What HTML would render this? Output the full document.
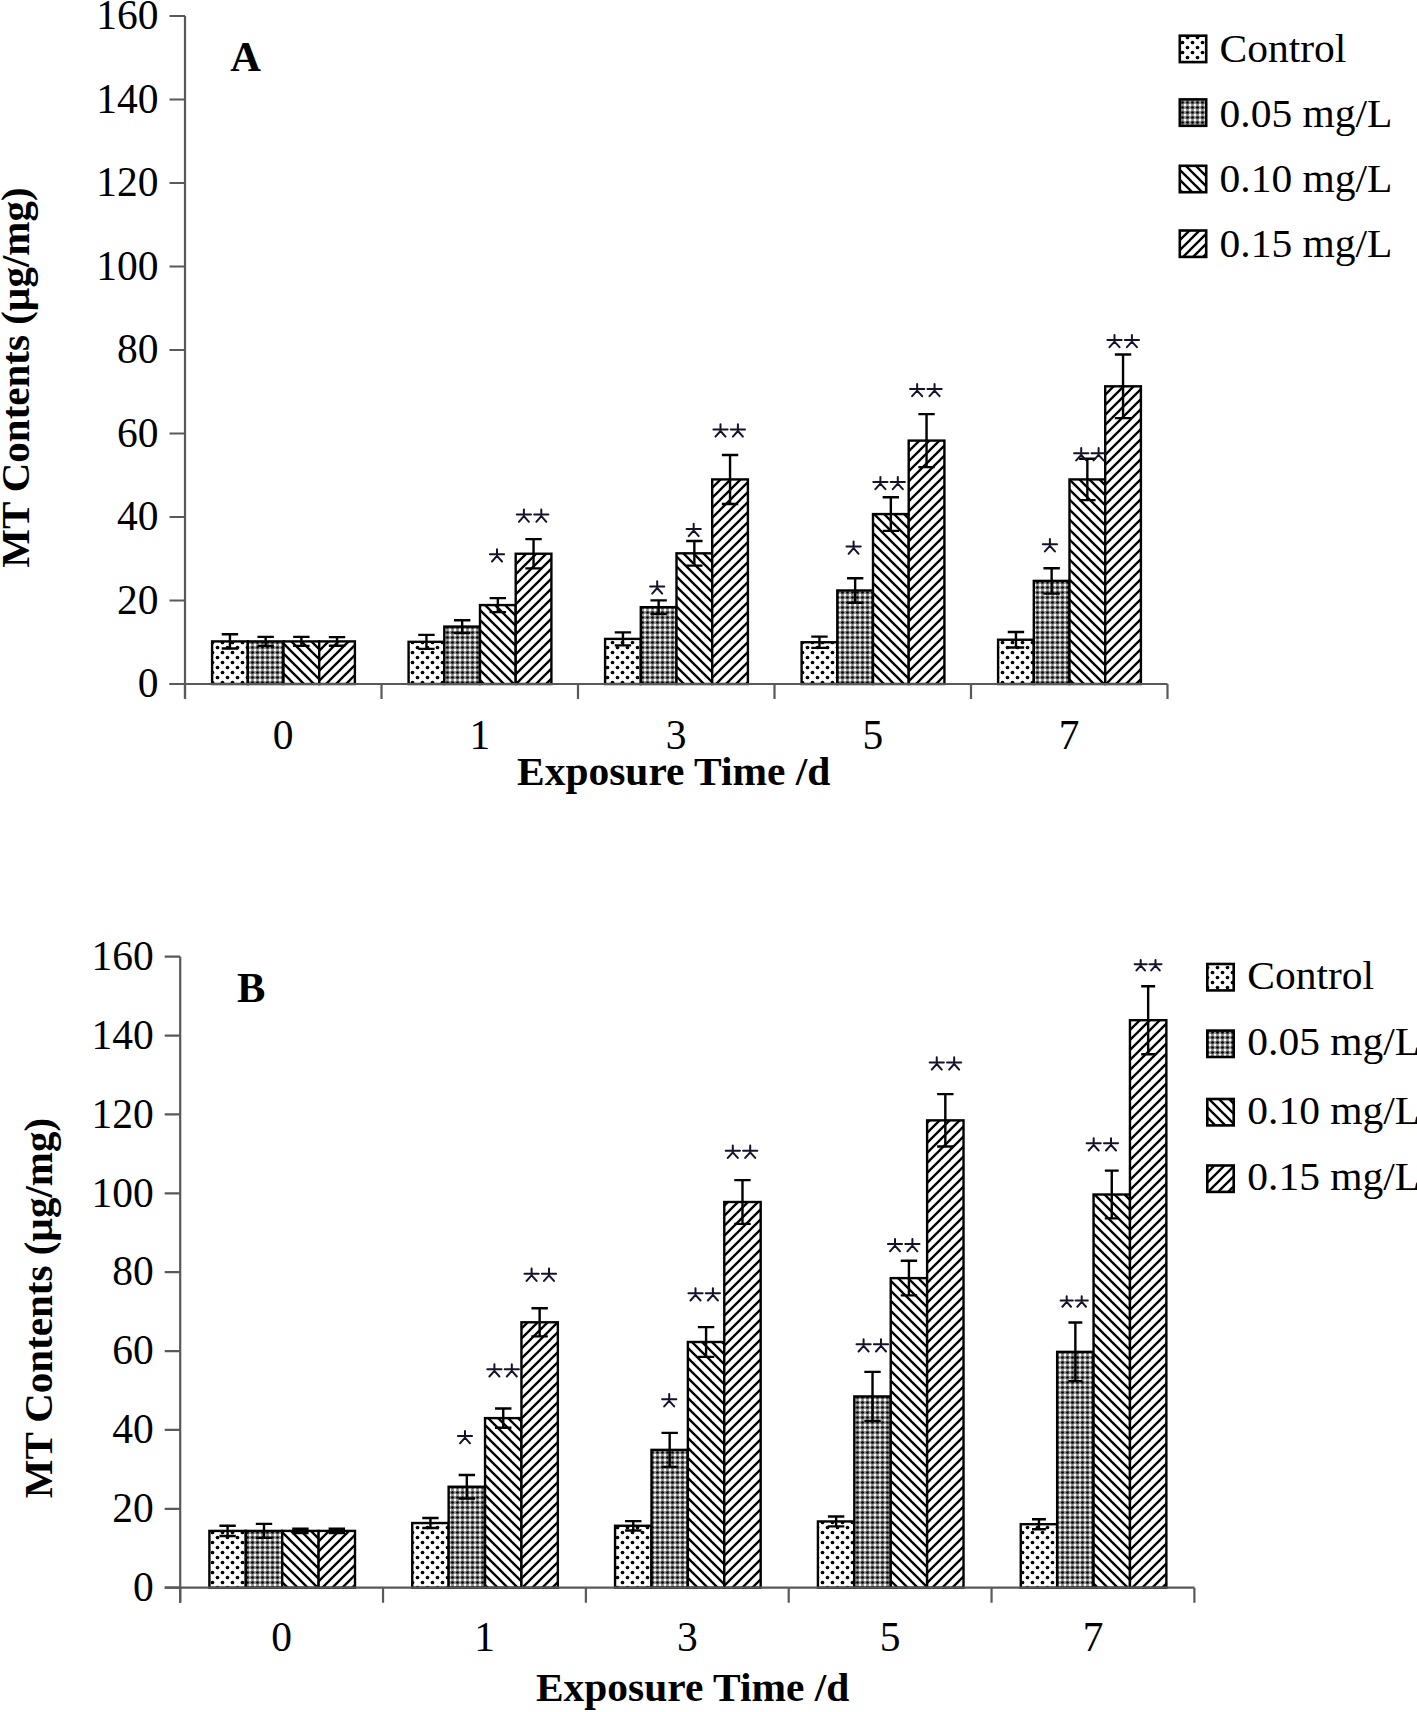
<!DOCTYPE html>
<html><head><meta charset="utf-8"><style>html,body{margin:0;padding:0;background:#fff}svg{display:block}</style></head>
<body><svg width="1417" height="1712" viewBox="0 0 1417 1712">
<defs>
<pattern id="pc" patternUnits="userSpaceOnUse" width="10" height="10">
<rect width="10" height="10" fill="#fff"/>
<circle cx="2.5" cy="2.5" r="1.85" fill="#000"/><circle cx="7.5" cy="7.5" r="1.85" fill="#000"/>
</pattern>
<pattern id="p05" patternUnits="userSpaceOnUse" width="5" height="5">
<rect width="5" height="5" fill="#8c8c8c"/>
<circle cx="2.5" cy="2.5" r="1.35" fill="#000"/>
<circle cx="0" cy="0" r="1.25" fill="#fff"/><circle cx="5" cy="0" r="1.25" fill="#fff"/><circle cx="0" cy="5" r="1.25" fill="#fff"/><circle cx="5" cy="5" r="1.25" fill="#fff"/>
</pattern>
<pattern id="p10" patternUnits="userSpaceOnUse" width="10" height="10">
<rect width="10" height="10" fill="#fff"/>
<path d="M-5,5 L5,15 M0,0 L10,10 M5,-5 L15,5" stroke="#000" stroke-width="2.3"/>
</pattern>
<pattern id="p15" patternUnits="userSpaceOnUse" width="10" height="10">
<rect width="10" height="10" fill="#fff"/>
<path d="M-5,5 L5,-5 M0,10 L10,0 M5,15 L15,5" stroke="#000" stroke-width="2.3"/>
</pattern>
<style>
.t{font-family:"Liberation Serif",serif;font-size:41.5px;fill:#000}
.b{font-family:"Liberation Serif",serif;font-size:41.5px;font-weight:bold;fill:#000}
.lg{font-family:"Liberation Serif",serif;font-size:40.5px;fill:#000}
.xb{font-family:"Liberation Serif",serif;font-size:40px;font-weight:bold;fill:#000}
.yt{font-family:"Liberation Serif",serif;font-size:41px;font-weight:bold;fill:#000}
.ab{font-family:"Liberation Serif",serif;font-size:42.5px;font-weight:bold;fill:#000}
</style>
</defs>
<rect width="1417" height="1712" fill="#fff"/>
<rect x="212.10" y="641.41" width="35.70" height="42.59" fill="url(#pc)" stroke="#000" stroke-width="2.4"/>
<rect x="247.80" y="641.41" width="35.70" height="42.59" fill="url(#p05)" stroke="#000" stroke-width="2.4"/>
<rect x="283.50" y="641.41" width="35.70" height="42.59" fill="url(#p10)" stroke="#000" stroke-width="2.4"/>
<rect x="319.20" y="641.41" width="35.70" height="42.59" fill="url(#p15)" stroke="#000" stroke-width="2.4"/>
<rect x="408.60" y="641.83" width="35.70" height="42.17" fill="url(#pc)" stroke="#000" stroke-width="2.4"/>
<rect x="444.30" y="626.59" width="35.70" height="57.41" fill="url(#p05)" stroke="#000" stroke-width="2.4"/>
<rect x="480.00" y="605.09" width="35.70" height="78.91" fill="url(#p10)" stroke="#000" stroke-width="2.4"/>
<rect x="515.70" y="553.74" width="35.70" height="130.26" fill="url(#p15)" stroke="#000" stroke-width="2.4"/>
<rect x="605.10" y="638.91" width="35.70" height="45.09" fill="url(#pc)" stroke="#000" stroke-width="2.4"/>
<rect x="640.80" y="607.18" width="35.70" height="76.82" fill="url(#p05)" stroke="#000" stroke-width="2.4"/>
<rect x="676.50" y="553.32" width="35.70" height="130.68" fill="url(#p10)" stroke="#000" stroke-width="2.4"/>
<rect x="712.20" y="479.43" width="35.70" height="204.57" fill="url(#p15)" stroke="#000" stroke-width="2.4"/>
<rect x="801.60" y="642.25" width="35.70" height="41.75" fill="url(#pc)" stroke="#000" stroke-width="2.4"/>
<rect x="837.30" y="590.48" width="35.70" height="93.52" fill="url(#p05)" stroke="#000" stroke-width="2.4"/>
<rect x="873.00" y="514.08" width="35.70" height="169.92" fill="url(#p10)" stroke="#000" stroke-width="2.4"/>
<rect x="908.70" y="440.60" width="35.70" height="243.40" fill="url(#p15)" stroke="#000" stroke-width="2.4"/>
<rect x="998.10" y="639.75" width="35.70" height="44.25" fill="url(#pc)" stroke="#000" stroke-width="2.4"/>
<rect x="1033.80" y="580.88" width="35.70" height="103.12" fill="url(#p05)" stroke="#000" stroke-width="2.4"/>
<rect x="1069.50" y="479.43" width="35.70" height="204.57" fill="url(#p10)" stroke="#000" stroke-width="2.4"/>
<rect x="1105.20" y="386.32" width="35.70" height="297.68" fill="url(#p15)" stroke="#000" stroke-width="2.4"/>
<path d="M229.95,634.31 V648.51 M221.75,634.31 H238.15 M221.75,648.51 H238.15 M265.65,636.91 V645.91 M257.45,636.91 H273.85 M257.45,645.91 H273.85 M301.35,636.91 V645.91 M293.15,636.91 H309.55 M293.15,645.91 H309.55 M337.05,637.12 V645.71 M328.85,637.12 H345.25 M328.85,645.71 H345.25 M426.45,634.83 V648.83 M418.25,634.83 H434.65 M418.25,648.83 H434.65 M462.15,620.19 V632.99 M453.95,620.19 H470.35 M453.95,632.99 H470.35 M497.85,598.09 V612.09 M489.65,598.09 H506.05 M489.65,612.09 H506.05 M533.55,539.14 V568.34 M525.35,539.14 H541.75 M525.35,568.34 H541.75 M622.95,632.41 V645.41 M614.75,632.41 H631.15 M614.75,645.41 H631.15 M658.65,600.38 V613.98 M650.45,600.38 H666.85 M650.45,613.98 H666.85 M694.35,541.02 V565.62 M686.15,541.02 H702.55 M686.15,565.62 H702.55 M730.05,454.93 V503.93 M721.85,454.93 H738.25 M721.85,503.93 H738.25 M819.45,636.65 V647.85 M811.25,636.65 H827.65 M811.25,647.85 H827.65 M855.15,578.18 V602.78 M846.95,578.18 H863.35 M846.95,602.78 H863.35 M890.85,497.28 V530.88 M882.65,497.28 H899.05 M882.65,530.88 H899.05 M926.55,414.10 V467.10 M918.35,414.10 H934.75 M918.35,467.10 H934.75 M1015.95,631.95 V647.54 M1007.75,631.95 H1024.15 M1007.75,647.54 H1024.15 M1051.65,568.18 V593.58 M1043.45,568.18 H1059.85 M1043.45,593.58 H1059.85 M1087.35,458.73 V500.12 M1079.15,458.73 H1095.55 M1079.15,500.12 H1095.55 M1123.05,354.52 V418.12 M1114.85,354.52 H1131.25 M1114.85,418.12 H1131.25" stroke="#000" stroke-width="2.4" fill="none"/>
<path d="M185.0,16.0 V699.0 M169.5,684.0 H1167.5" stroke="#595959" stroke-width="2.2" fill="none"/><path d="M169.5,16.00 H185.0 M169.5,99.50 H185.0 M169.5,183.00 H185.0 M169.5,266.50 H185.0 M169.5,350.00 H185.0 M169.5,433.50 H185.0 M169.5,517.00 H185.0 M169.5,600.50 H185.0 M169.5,684.00 H185.0 M185.00,684.0 V699.0 M381.50,684.0 V699.0 M578.00,684.0 V699.0 M774.50,684.0 V699.0 M971.00,684.0 V699.0 M1167.50,684.0 V699.0" stroke="#595959" stroke-width="2.2" fill="none"/>
<path d="M497.00,555.90 L497.00,549.20 M489.90,554.30 L504.10,554.30 M497.00,555.90 L492.00,561.50 M497.00,555.90 L502.00,561.50 M523.90,516.20 L523.90,509.50 M516.80,514.60 L531.00,514.60 M523.90,516.20 L518.90,521.80 M523.90,516.20 L528.90,521.80 M541.30,516.20 L541.30,509.50 M534.20,514.60 L548.40,514.60 M541.30,516.20 L536.30,521.80 M541.30,516.20 L546.30,521.80 M657.20,588.00 L657.20,581.30 M650.10,586.40 L664.30,586.40 M657.20,588.00 L652.20,593.60 M657.20,588.00 L662.20,593.60 M693.70,530.50 L693.70,523.80 M686.60,528.90 L700.80,528.90 M693.70,530.50 L688.70,536.10 M693.70,530.50 L698.70,536.10 M720.50,431.00 L720.50,424.30 M713.40,429.40 L727.60,429.40 M720.50,431.00 L715.50,436.60 M720.50,431.00 L725.50,436.60 M737.90,431.00 L737.90,424.30 M730.80,429.40 L745.00,429.40 M737.90,431.00 L732.90,436.60 M737.90,431.00 L742.90,436.60 M853.60,548.20 L853.60,541.50 M846.50,546.60 L860.70,546.60 M853.60,548.20 L848.60,553.80 M853.60,548.20 L858.60,553.80 M880.40,483.60 L880.40,476.90 M873.30,482.00 L887.50,482.00 M880.40,483.60 L875.40,489.20 M880.40,483.60 L885.40,489.20 M897.80,483.60 L897.80,476.90 M890.70,482.00 L904.90,482.00 M897.80,483.60 L892.80,489.20 M897.80,483.60 L902.80,489.20 M917.15,390.60 L917.15,383.90 M910.05,389.00 L924.25,389.00 M917.15,390.60 L912.15,396.20 M917.15,390.60 L922.15,396.20 M934.55,390.60 L934.55,383.90 M927.45,389.00 L941.65,389.00 M934.55,390.60 L929.55,396.20 M934.55,390.60 L939.55,396.20 M1049.90,545.80 L1049.90,539.10 M1042.80,544.20 L1057.00,544.20 M1049.90,545.80 L1044.90,551.40 M1049.90,545.80 L1054.90,551.40 M1081.20,454.80 L1081.20,448.10 M1074.10,453.20 L1088.30,453.20 M1081.20,454.80 L1076.20,460.40 M1081.20,454.80 L1086.20,460.40 M1098.60,454.80 L1098.60,448.10 M1091.50,453.20 L1105.70,453.20 M1098.60,454.80 L1093.60,460.40 M1098.60,454.80 L1103.60,460.40 M1114.50,341.60 L1114.50,334.90 M1107.40,340.00 L1121.60,340.00 M1114.50,341.60 L1109.50,347.20 M1114.50,341.60 L1119.50,347.20 M1131.90,341.60 L1131.90,334.90 M1124.80,340.00 L1139.00,340.00 M1131.90,341.60 L1126.90,347.20 M1131.90,341.60 L1136.90,347.20" stroke="#15122a" stroke-width="2.0" stroke-linecap="round" fill="none"/>
<text x="158.5" y="29.2" class="t" text-anchor="end">160</text>
<text x="158.5" y="112.7" class="t" text-anchor="end">140</text>
<text x="158.5" y="196.2" class="t" text-anchor="end">120</text>
<text x="158.5" y="279.7" class="t" text-anchor="end">100</text>
<text x="158.5" y="363.2" class="t" text-anchor="end">80</text>
<text x="158.5" y="446.7" class="t" text-anchor="end">60</text>
<text x="158.5" y="530.2" class="t" text-anchor="end">40</text>
<text x="158.5" y="613.7" class="t" text-anchor="end">20</text>
<text x="158.5" y="697.2" class="t" text-anchor="end">0</text>
<text x="283.2" y="749.1" class="t" text-anchor="middle">0</text>
<text x="479.8" y="749.1" class="t" text-anchor="middle">1</text>
<text x="676.2" y="749.1" class="t" text-anchor="middle">3</text>
<text x="872.8" y="749.1" class="t" text-anchor="middle">5</text>
<text x="1069.2" y="749.1" class="t" text-anchor="middle">7</text><rect x="209.40" y="1530.91" width="36.40" height="56.79" fill="url(#pc)" stroke="#000" stroke-width="2.4"/>
<rect x="245.80" y="1530.91" width="36.40" height="56.79" fill="url(#p05)" stroke="#000" stroke-width="2.4"/>
<rect x="282.20" y="1530.91" width="36.40" height="56.79" fill="url(#p10)" stroke="#000" stroke-width="2.4"/>
<rect x="318.60" y="1530.91" width="36.40" height="56.79" fill="url(#p15)" stroke="#000" stroke-width="2.4"/>
<rect x="412.24" y="1523.02" width="36.40" height="64.68" fill="url(#pc)" stroke="#000" stroke-width="2.4"/>
<rect x="448.64" y="1486.74" width="36.40" height="100.96" fill="url(#p05)" stroke="#000" stroke-width="2.4"/>
<rect x="485.04" y="1418.12" width="36.40" height="169.58" fill="url(#p10)" stroke="#000" stroke-width="2.4"/>
<rect x="521.44" y="1322.29" width="36.40" height="265.41" fill="url(#p15)" stroke="#000" stroke-width="2.4"/>
<rect x="615.08" y="1525.78" width="36.40" height="61.92" fill="url(#pc)" stroke="#000" stroke-width="2.4"/>
<rect x="651.48" y="1449.87" width="36.40" height="137.83" fill="url(#p05)" stroke="#000" stroke-width="2.4"/>
<rect x="687.88" y="1342.00" width="36.40" height="245.70" fill="url(#p10)" stroke="#000" stroke-width="2.4"/>
<rect x="724.28" y="1202.00" width="36.40" height="385.70" fill="url(#p15)" stroke="#000" stroke-width="2.4"/>
<rect x="817.92" y="1521.44" width="36.40" height="66.26" fill="url(#pc)" stroke="#000" stroke-width="2.4"/>
<rect x="854.32" y="1396.43" width="36.40" height="191.27" fill="url(#p05)" stroke="#000" stroke-width="2.4"/>
<rect x="890.72" y="1278.12" width="36.40" height="309.58" fill="url(#p10)" stroke="#000" stroke-width="2.4"/>
<rect x="927.12" y="1120.37" width="36.40" height="467.33" fill="url(#p15)" stroke="#000" stroke-width="2.4"/>
<rect x="1020.76" y="1524.21" width="36.40" height="63.49" fill="url(#pc)" stroke="#000" stroke-width="2.4"/>
<rect x="1057.16" y="1351.86" width="36.40" height="235.84" fill="url(#p05)" stroke="#000" stroke-width="2.4"/>
<rect x="1093.56" y="1194.51" width="36.40" height="393.19" fill="url(#p10)" stroke="#000" stroke-width="2.4"/>
<rect x="1129.96" y="1020.19" width="36.40" height="567.51" fill="url(#p15)" stroke="#000" stroke-width="2.4"/>
<path d="M227.60,1525.81 V1536.01 M219.40,1525.81 H235.80 M219.40,1536.01 H235.80 M264.00,1523.91 V1537.91 M255.80,1523.91 H272.20 M255.80,1537.91 H272.20 M300.40,1528.71 V1533.11 M292.20,1528.71 H308.60 M292.20,1533.11 H308.60 M336.80,1528.71 V1533.11 M328.60,1528.71 H345.00 M328.60,1533.11 H345.00 M430.44,1518.02 V1528.02 M422.24,1518.02 H438.64 M422.24,1528.02 H438.64 M466.84,1475.04 V1498.44 M458.64,1475.04 H475.04 M458.64,1498.44 H475.04 M503.24,1408.52 V1427.72 M495.04,1408.52 H511.44 M495.04,1427.72 H511.44 M539.64,1308.19 V1336.39 M531.44,1308.19 H547.84 M531.44,1336.39 H547.84 M633.28,1521.08 V1530.48 M625.08,1521.08 H641.48 M625.08,1530.48 H641.48 M669.68,1432.87 V1466.87 M661.48,1432.87 H677.88 M661.48,1466.87 H677.88 M706.08,1327.10 V1356.90 M697.88,1327.10 H714.28 M697.88,1356.90 H714.28 M742.48,1180.10 V1223.90 M734.28,1180.10 H750.68 M734.28,1223.90 H750.68 M836.12,1516.54 V1526.35 M827.92,1516.54 H844.32 M827.92,1526.35 H844.32 M872.52,1371.83 V1421.03 M864.32,1371.83 H880.72 M864.32,1421.03 H880.72 M908.92,1260.82 V1295.42 M900.72,1260.82 H917.12 M900.72,1295.42 H917.12 M945.32,1094.17 V1146.57 M937.12,1094.17 H953.52 M937.12,1146.57 H953.52 M1038.96,1519.21 V1529.21 M1032.01,1519.21 H1045.91 M1032.01,1529.21 H1045.91 M1075.36,1322.56 V1381.16 M1068.41,1322.56 H1082.31 M1068.41,1381.16 H1082.31 M1111.76,1170.61 V1218.41 M1104.81,1170.61 H1118.71 M1104.81,1218.41 H1118.71 M1148.16,986.19 V1054.19 M1141.21,986.19 H1155.11 M1141.21,1054.19 H1155.11" stroke="#000" stroke-width="2.4" fill="none"/>
<path d="M180.2,956.7 V1602.7 M164.7,1587.7 H1194.4" stroke="#595959" stroke-width="2.2" fill="none"/><path d="M164.7,956.70 H180.2 M164.7,1035.58 H180.2 M164.7,1114.45 H180.2 M164.7,1193.33 H180.2 M164.7,1272.20 H180.2 M164.7,1351.08 H180.2 M164.7,1429.95 H180.2 M164.7,1508.83 H180.2 M164.7,1587.70 H180.2 M180.20,1587.7 V1602.7 M383.04,1587.7 V1602.7 M585.88,1587.7 V1602.7 M788.72,1587.7 V1602.7 M991.56,1587.7 V1602.7 M1194.40,1587.7 V1602.7" stroke="#595959" stroke-width="2.2" fill="none"/>
<path d="M465.00,1437.70 L465.00,1431.00 M457.90,1436.10 L472.10,1436.10 M465.00,1437.70 L460.00,1443.30 M465.00,1437.70 L470.00,1443.30 M494.40,1370.90 L494.40,1364.20 M487.30,1369.30 L501.50,1369.30 M494.40,1370.90 L489.40,1376.50 M494.40,1370.90 L499.40,1376.50 M511.80,1370.90 L511.80,1364.20 M504.70,1369.30 L518.90,1369.30 M511.80,1370.90 L506.80,1376.50 M511.80,1370.90 L516.80,1376.50 M531.60,1275.30 L531.60,1268.60 M524.50,1273.70 L538.70,1273.70 M531.60,1275.30 L526.60,1280.90 M531.60,1275.30 L536.60,1280.90 M549.00,1275.30 L549.00,1268.60 M541.90,1273.70 L556.10,1273.70 M549.00,1275.30 L544.00,1280.90 M549.00,1275.30 L554.00,1280.90 M669.20,1400.80 L669.20,1394.10 M662.10,1399.20 L676.30,1399.20 M669.20,1400.80 L664.20,1406.40 M669.20,1400.80 L674.20,1406.40 M695.50,1294.90 L695.50,1288.20 M688.40,1293.30 L702.60,1293.30 M695.50,1294.90 L690.50,1300.50 M695.50,1294.90 L700.50,1300.50 M712.90,1294.90 L712.90,1288.20 M705.80,1293.30 L720.00,1293.30 M712.90,1294.90 L707.90,1300.50 M712.90,1294.90 L717.90,1300.50 M732.80,1152.30 L732.80,1145.60 M725.70,1150.70 L739.90,1150.70 M732.80,1152.30 L727.80,1157.90 M732.80,1152.30 L737.80,1157.90 M750.20,1152.30 L750.20,1145.60 M743.10,1150.70 L757.30,1150.70 M750.20,1152.30 L745.20,1157.90 M750.20,1152.30 L755.20,1157.90 M863.60,1345.90 L863.60,1339.20 M856.50,1344.30 L870.70,1344.30 M863.60,1345.90 L858.60,1351.50 M863.60,1345.90 L868.60,1351.50 M881.00,1345.90 L881.00,1339.20 M873.90,1344.30 L888.10,1344.30 M881.00,1345.90 L876.00,1351.50 M881.00,1345.90 L886.00,1351.50 M895.00,1245.70 L895.00,1239.00 M887.90,1244.10 L902.10,1244.10 M895.00,1245.70 L890.00,1251.30 M895.00,1245.70 L900.00,1251.30 M912.40,1245.70 L912.40,1239.00 M905.30,1244.10 L919.50,1244.10 M912.40,1245.70 L907.40,1251.30 M912.40,1245.70 L917.40,1251.30 M936.75,1064.00 L936.75,1057.30 M929.65,1062.40 L943.85,1062.40 M936.75,1064.00 L931.75,1069.60 M936.75,1064.00 L941.75,1069.60 M954.15,1064.00 L954.15,1057.30 M947.05,1062.40 L961.25,1062.40 M954.15,1064.00 L949.15,1069.60 M954.15,1064.00 L959.15,1069.60 M1066.70,1301.93 L1066.70,1296.16 M1060.58,1300.55 L1072.82,1300.55 M1066.70,1301.93 L1062.39,1306.76 M1066.70,1301.93 L1071.01,1306.76 M1081.70,1301.93 L1081.70,1296.16 M1075.58,1300.55 L1087.82,1300.55 M1081.70,1301.93 L1077.39,1306.76 M1081.70,1301.93 L1086.01,1306.76 M1093.70,1144.90 L1093.70,1138.24 M1086.64,1143.31 L1100.76,1143.31 M1093.70,1144.90 L1088.73,1150.46 M1093.70,1144.90 L1098.67,1150.46 M1111.00,1144.90 L1111.00,1138.24 M1103.94,1143.31 L1118.06,1143.31 M1111.00,1144.90 L1106.03,1150.46 M1111.00,1144.90 L1115.97,1150.46 M1140.70,965.63 L1140.70,959.93 M1134.66,964.26 L1146.74,964.26 M1140.70,965.63 L1136.45,970.39 M1140.70,965.63 L1144.95,970.39 M1155.50,965.63 L1155.50,959.93 M1149.46,964.26 L1161.54,964.26 M1155.50,965.63 L1151.25,970.39 M1155.50,965.63 L1159.75,970.39" stroke="#15122a" stroke-width="2.0" stroke-linecap="round" fill="none"/>
<text x="153.7" y="969.9" class="t" text-anchor="end">160</text>
<text x="153.7" y="1048.8" class="t" text-anchor="end">140</text>
<text x="153.7" y="1127.7" class="t" text-anchor="end">120</text>
<text x="153.7" y="1206.5" class="t" text-anchor="end">100</text>
<text x="153.7" y="1285.4" class="t" text-anchor="end">80</text>
<text x="153.7" y="1364.3" class="t" text-anchor="end">60</text>
<text x="153.7" y="1443.2" class="t" text-anchor="end">40</text>
<text x="153.7" y="1522.0" class="t" text-anchor="end">20</text>
<text x="153.7" y="1600.9" class="t" text-anchor="end">0</text>
<text x="281.6" y="1651.0" class="t" text-anchor="middle">0</text>
<text x="484.5" y="1651.0" class="t" text-anchor="middle">1</text>
<text x="687.3" y="1651.0" class="t" text-anchor="middle">3</text>
<text x="890.1" y="1651.0" class="t" text-anchor="middle">5</text>
<text x="1093.0" y="1651.0" class="t" text-anchor="middle">7</text><rect x="1179.8" y="35.7" width="26.4" height="26.4" fill="url(#pc)" stroke="#000" stroke-width="2.6"/>
<text transform="translate(1219.5,61.5) scale(1.025,1)" class="lg">Control</text>
<rect x="1179.8" y="99.4" width="26.4" height="26.4" fill="url(#p05)" stroke="#000" stroke-width="2.6"/>
<text transform="translate(1219.5,127.0) scale(1.025,1)" class="lg">0.05 mg/L</text>
<rect x="1179.8" y="165.8" width="26.4" height="26.4" fill="url(#p10)" stroke="#000" stroke-width="2.6"/>
<text transform="translate(1219.5,191.5) scale(1.025,1)" class="lg">0.10 mg/L</text>
<rect x="1179.8" y="230.5" width="26.4" height="26.4" fill="url(#p15)" stroke="#000" stroke-width="2.6"/>
<text transform="translate(1219.5,256.5) scale(1.025,1)" class="lg">0.15 mg/L</text><rect x="1207.3" y="964.0" width="26.4" height="26.4" fill="url(#pc)" stroke="#000" stroke-width="2.6"/>
<text transform="translate(1247.3,988.9) scale(1.025,1)" class="lg">Control</text>
<rect x="1207.3" y="1030.6" width="26.4" height="26.4" fill="url(#p05)" stroke="#000" stroke-width="2.6"/>
<text transform="translate(1247.3,1055.3) scale(1.025,1)" class="lg">0.05 mg/L</text>
<rect x="1207.3" y="1099.0" width="26.4" height="26.4" fill="url(#p10)" stroke="#000" stroke-width="2.6"/>
<text transform="translate(1247.3,1124.2) scale(1.025,1)" class="lg">0.10 mg/L</text>
<rect x="1207.3" y="1165.5" width="26.4" height="26.4" fill="url(#p15)" stroke="#000" stroke-width="2.6"/>
<text transform="translate(1247.3,1189.9) scale(1.025,1)" class="lg">0.15 mg/L</text><text transform="translate(517,785.3) scale(1.037,1)" class="xb">Exposure Time /d</text><text transform="translate(535.9,1700.6) scale(1.037,1)" class="xb">Exposure Time /d</text><text transform="translate(29.4,567.8) rotate(-90)" class="yt">MT Contents (µg/mg)</text><text transform="translate(51.5,1498.3) rotate(-90)" class="yt">MT Contents (µg/mg)</text><text x="230.2" y="71.1" class="ab">A</text><text x="237.1" y="1002" class="ab">B</text></svg></body></html>
